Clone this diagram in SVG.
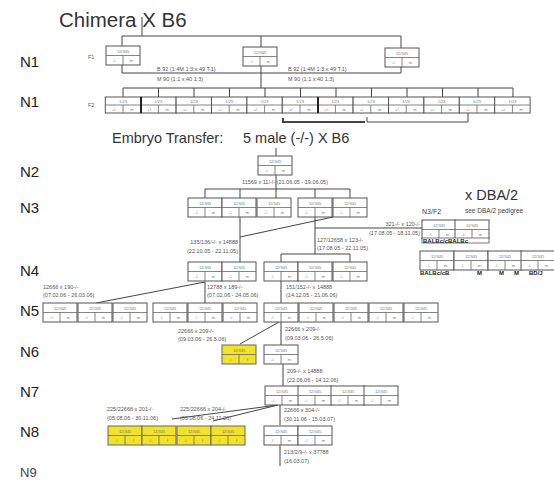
<svg xmlns="http://www.w3.org/2000/svg" xmlns:xlink="http://www.w3.org/1999/xlink" width="554" height="484" viewBox="0 0 554 484">
<style>
text{font-family:"Liberation Sans",Arial,sans-serif;fill:#333}
.gen{font-size:15px;fill:#222}
.big{font-size:14.5px;fill:#333}
.sm{font-size:5.5px;fill:#555}
.tiny{font-size:4px;fill:#777}
.bold{font-size:6px;font-weight:bold;fill:#222}
.ln{fill:none;stroke:#444;stroke-width:1}
.box{fill:#fff;stroke:#555;stroke-width:1}
.ybox{fill:#f3e22b;stroke:#666;stroke-width:1}
.div{stroke:#666;stroke-width:0.8;fill:none}
</style>
<defs>
<g id="cell">
<rect class="box" x="0" y="0" width="34" height="19"/>
<path class="div" d="M0,9.5H34M17,9.5V19"/>
<text class="tiny" x="17" y="7" text-anchor="middle">12/345</text>
<text class="tiny" x="8.5" y="16" text-anchor="middle">-/-</text>
<text class="tiny" x="25.5" y="16" text-anchor="middle">m</text>
</g>
<g id="ycell">
<rect class="ybox" x="0" y="0" width="34" height="19"/>
<path class="div" d="M0,9.5H34M17,9.5V19"/>
<text class="tiny" x="17" y="7" text-anchor="middle">12/345</text>
<text class="tiny" x="8.5" y="16" text-anchor="middle">-/-</text>
<text class="tiny" x="25.5" y="16" text-anchor="middle">f</text>
</g>
<g id="f2cell">
<rect class="box" x="0" y="0" width="35.4" height="16"/>
<path class="div" d="M0,8H35.4M17.7,8V16"/>
<text class="tiny" x="17.7" y="6" text-anchor="middle">1/23</text>
<text class="tiny" x="9" y="14" text-anchor="middle">+/-</text>
<text class="tiny" x="26.5" y="14" text-anchor="middle">m</text>
</g>
</defs>
<rect width="554" height="484" fill="#fff"/>

<g id="gen-labels">
<text class="gen" x="20" y="67">N1</text>
<text class="gen" x="20" y="107">N1</text>
<text class="gen" x="20" y="177">N2</text>
<text class="gen" x="20" y="213">N3</text>
<text class="gen" x="20" y="276">N4</text>
<text class="gen" x="20" y="316">N5</text>
<text class="gen" x="20" y="357">N6</text>
<text class="gen" x="20" y="397">N7</text>
<text class="gen" x="20" y="437">N8</text>
<text class="gen" x="20" y="477" style="font-size:13px;fill:#444">N9</text>
</g>

<g id="titles">
<text x="59" y="27" style="font-size:20.5px;fill:#333">Chimera X B6</text>
<text class="big" x="112" y="143">Embryo Transfer:</text>
<text class="big" x="243" y="143">5 male (-/-) X  B6</text>
<text class="big" x="465" y="200">x DBA/2</text>
<text x="465" y="213" style="font-size:6.5px;fill:#444">see DBA/2 pedigree</text>
<text x="422" y="214" style="font-size:7px;fill:#444">N3/F2</text>
<text class="sm" x="88" y="59">F1</text>
<text class="sm" x="88" y="107">F2</text>
</g>

<g id="connectors" class="ln">
<path d="M142,17V36M122,36H401M122,36V46M261,36V47M401,36V48"/>
<path d="M122,64V73H401M401,67V73M261,65V88"/>
<path d="M123,88H513M123,88V97M158.5,88V97M194,88V97M229.5,88V97M265,88V97M300.5,88V97M336,88V97M371.5,88V97M407,88V97M442.5,88V97M478,88V97M513,88V97"/>
<path d="M283,118V122H365" style="stroke-width:2"/>
<path d="M367,117V122H468V113"/>
<path d="M276,148V156M276,175V198"/>
<path d="M205,189H350M205,189V198M240,189V198M315,189V198M350,189V198"/>
<path d="M240,217V262M333,217L240,237"/>
<path d="M315,217V254M315,228H422M281,254H350M281,254V303M350,254V262"/>
<path d="M205,282V303M205,282L96,303"/>
<path d="M279,322L240,344M281,322V345"/>
<path d="M283,364V386"/>
<path d="M278,405L172,419M278,405L213,421M280,405V425M280,445V466"/>
</g>

<g id="connector-labels">
<text class="sm" x="157" y="71">B 92 (1:4M 1:3:x:49 T:1)</text>
<text class="sm" x="157" y="81">M 90 (1:1 x:40 1:3)</text>
<text class="sm" x="288" y="71">B 92 (1:4M 1:3:x:49 T:1)</text>
<text class="sm" x="288" y="81">M 90 (1:1 x:40 1:3)</text>
<text class="sm" x="285" y="184" text-anchor="middle">11569 x 11/-/- (21.06.05 - 19.06.05)</text>
<text class="sm" x="238" y="244" text-anchor="end">135/136/-/- x 14888</text>
<text class="sm" x="238" y="253" text-anchor="end">(22.10.05 - 22.11.05)</text>
<text class="sm" x="420" y="226" text-anchor="end">321-/- x 120-/-</text>
<text class="sm" x="420" y="235" text-anchor="end">(17.08.05 - 18.11.05)</text>
<text class="sm" x="317" y="242">127/12658 x 123-/-</text>
<text class="sm" x="317" y="250">(17.08.05 - 22.11.05)</text>
<text class="sm" x="43" y="289">12666 x 190-/-</text>
<text class="sm" x="43" y="297">(07.02.06 - 26.03.06)</text>
<text class="sm" x="207" y="289">12788 x 189-/-</text>
<text class="sm" x="207" y="297">(07.02.06 - 24.05.06)</text>
<text class="sm" x="286" y="289">151/152-/- x 14888</text>
<text class="sm" x="286" y="297">(14.12.05 - 21.06.06)</text>
<text class="sm" x="178" y="333">22666 x 209-/-</text>
<text class="sm" x="178" y="341">(09.03.06 - 26.5.06)</text>
<text class="sm" x="285" y="331">22666 x 209-/-</text>
<text class="sm" x="285" y="340">(09.03.06 - 26.5.06)</text>
<text class="sm" x="287" y="373">209-/- x 14888</text>
<text class="sm" x="287" y="382">(22.06.06 - 14.12.06)</text>
<text class="sm" x="107" y="411">225/22666 x 201-/-</text>
<text class="sm" x="107" y="420">(05.08.06 - 30.11.06)</text>
<text class="sm" x="180" y="411">225/22666 x 204-/-</text>
<text class="sm" x="180" y="420">(05.08.06 - 24.11.06)</text>
<text class="sm" x="284" y="412">22666 x 304-/-</text>
<text class="sm" x="284" y="421">(30.11.06 - 15.03.07)</text>
<text class="sm" x="284" y="454">213/2/9-/- x 37788</text>
<text class="sm" x="284" y="463">(16.03.07)</text>
</g>

<g id="f1">
<use xlink:href="#cell" href="#cell" x="106" y="46"/>
<use xlink:href="#cell" href="#cell" x="243" y="47"/>
<use xlink:href="#cell" href="#cell" x="385" y="48"/>
</g>

<g id="f2">
<use href="#f2cell" x="105.3" y="97"/>
<use href="#f2cell" x="140.7" y="97"/>
<use href="#f2cell" x="176.1" y="97"/>
<use href="#f2cell" x="211.5" y="97"/>
<use href="#f2cell" x="246.9" y="97"/>
<use href="#f2cell" x="282.3" y="97"/>
<use href="#f2cell" x="317.7" y="97"/>
<use href="#f2cell" x="353.1" y="97"/>
<use href="#f2cell" x="388.5" y="97"/>
<use href="#f2cell" x="423.9" y="97"/>
<use href="#f2cell" x="459.3" y="97"/>
<use href="#f2cell" x="494.7" y="97"/>
<path d="M141,97V113M318,97V113" stroke="#222" stroke-width="2"/>
</g>

<g id="n2"><use href="#cell" x="258" y="156"/></g>

<g id="n3">
<use href="#cell" x="188" y="198"/>
<use href="#cell" x="222" y="198"/>
<use href="#cell" x="257" y="198"/>
<use href="#cell" x="298" y="198"/>
<use href="#cell" x="333" y="198"/>
</g>

<g id="n3f2">
<use href="#cell" x="422" y="220"/>
<use href="#cell" x="455" y="220"/>
<rect x="422" y="238" width="67" height="5" fill="#fff" stroke="#555" stroke-width="0.8"/>
<text class="bold" x="423" y="243">BALBc/cBALBc</text>
<use href="#cell" x="420" y="251"/>
<use href="#cell" x="454" y="251"/>
<use href="#cell" x="488" y="251"/>
<use href="#cell" x="521" y="251"/>
<text class="bold" x="420" y="275">BALBc/cB</text>
<text class="bold" x="477" y="275">M</text>
<text class="bold" x="499" y="275">M</text>
<text class="bold" x="514" y="275">M</text>
<text class="bold" x="529" y="275">BD/J</text>
</g>

<g id="n4">
<use href="#cell" x="188" y="262"/>
<use href="#cell" x="222" y="262"/>
<use href="#cell" x="264" y="262"/>
<use href="#cell" x="298" y="262"/>
<use href="#cell" x="333" y="262"/>
</g>

<g id="n5">
<use href="#cell" x="43" y="303"/>
<use href="#cell" x="78" y="303"/>
<use href="#cell" x="113" y="303"/>
<use href="#cell" x="153" y="303"/>
<use href="#cell" x="188" y="303"/>
<use href="#cell" x="223" y="303"/>
<use href="#cell" x="264" y="303"/>
<use href="#cell" x="299" y="303"/>
<use href="#cell" x="334" y="303"/>
<use href="#cell" x="369" y="303"/>
<use href="#cell" x="404" y="303"/>
</g>

<g id="n6">
<use href="#ycell" x="222" y="345"/>
<use href="#cell" x="264" y="345"/>
</g>

<g id="n7">
<use href="#cell" x="265" y="386"/>
<use href="#cell" x="298" y="386"/>
<use href="#cell" x="331" y="386"/>
<use href="#cell" x="364" y="386"/>
</g>

<g id="n8">
<use href="#ycell" x="108" y="426"/>
<use href="#ycell" x="142" y="426"/>
<use href="#ycell" x="177" y="426"/>
<use href="#ycell" x="211" y="426"/>
<use href="#cell" x="264" y="426"/>
<use href="#cell" x="298" y="426"/>
</g>
</svg>
